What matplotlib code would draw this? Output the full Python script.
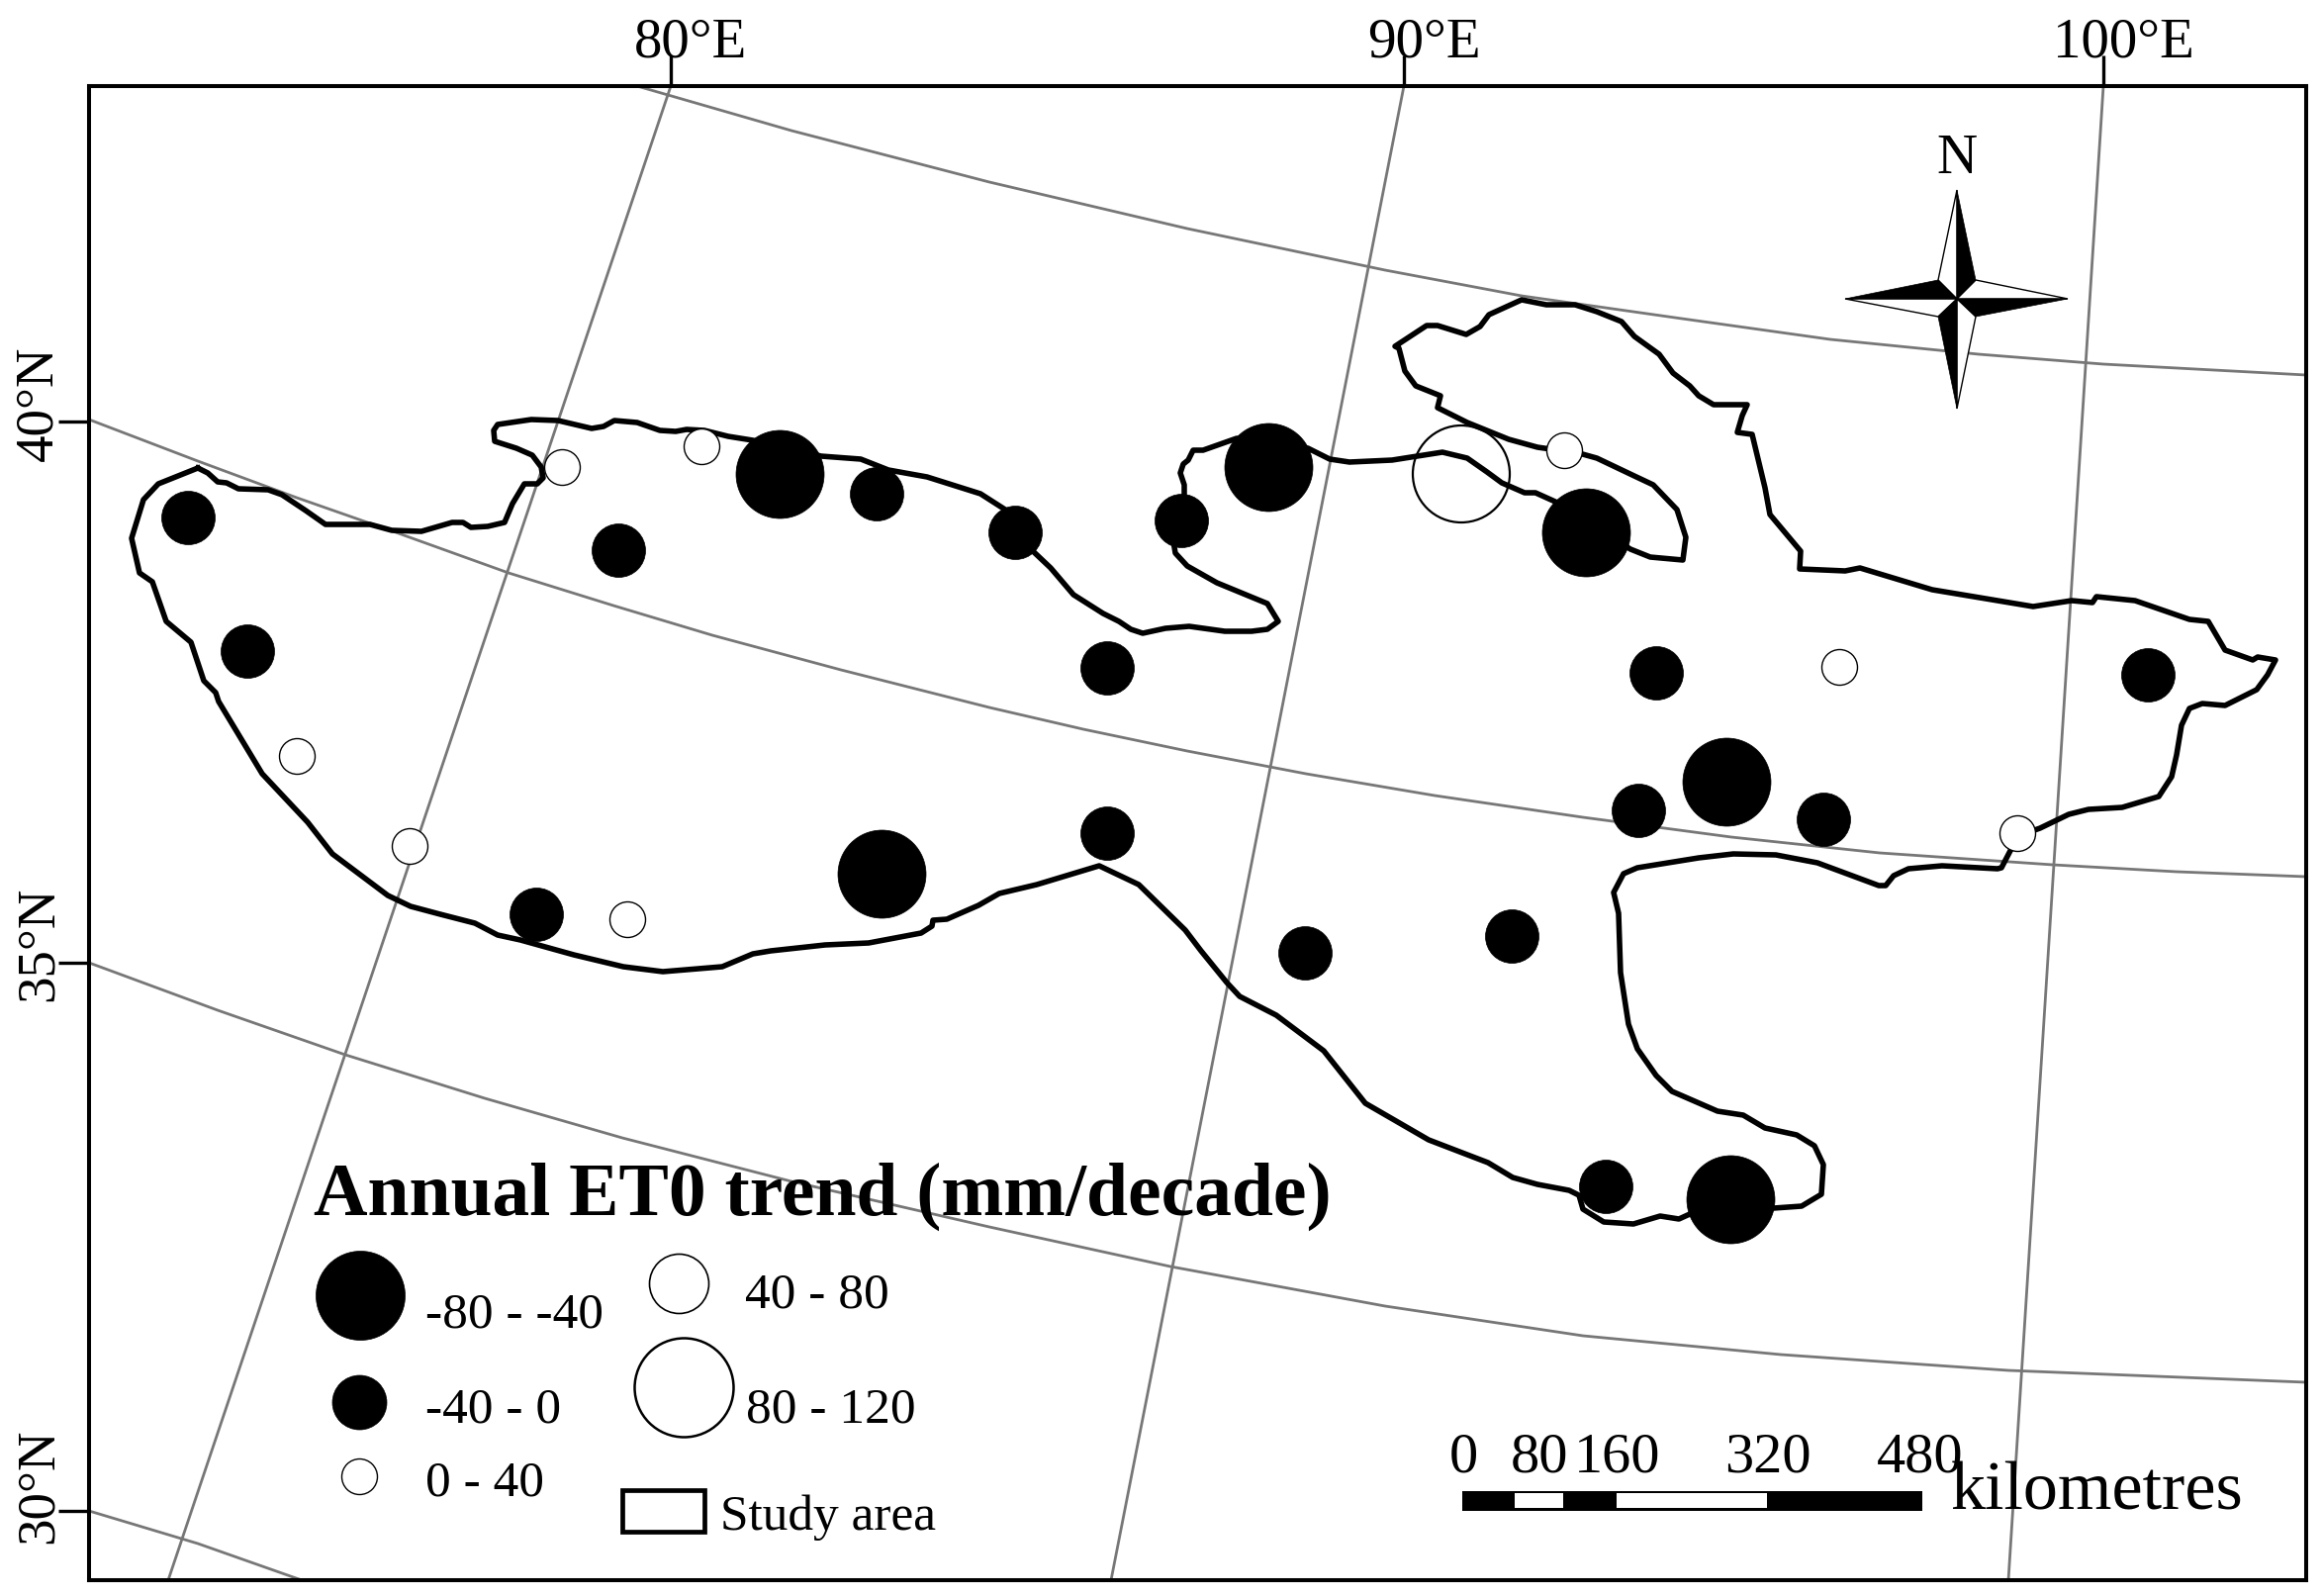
import matplotlib
matplotlib.use("Agg")
import matplotlib.pyplot as plt

plt.rcParams['font.family'] = ['Liberation Serif', 'DejaVu Serif']

# everything below is in pixels of the source map
FIG_W = 2347
FIG_H = 1613
LEFT, RIGHT, TOP, BOTTOM = 90, 2331, 87, 1597

# study area outline, clockwise from the north west corner
outline_x = [200, 210, 220, 229, 241, 271, 285, 309, 329, 374, 396, 426, 457, 468, 476, 493, 510, 518, 530, 543,
             549, 547, 538, 522, 500, 499, 503, 537, 564, 598, 610, 621, 644, 667, 683, 694, 712, 736, 761, 830,
             870, 898, 937, 991, 1016, 1044, 1062, 1085, 1115, 1131, 1143, 1155, 1178, 1202, 1238, 1265, 1281, 1292,
             1281, 1230, 1200, 1188, 1186, 1197, 1197, 1193, 1196, 1201, 1206, 1216, 1250, 1322, 1344, 1364, 1407,
             1458, 1483, 1503, 1518, 1541, 1552, 1572, 1648, 1668, 1701, 1704, 1695, 1671, 1654, 1614, 1596, 1554,
             1525, 1483, 1453, 1456, 1431, 1420, 1414, 1410, 1442, 1453, 1482, 1496, 1505, 1538, 1563, 1592, 1614,
             1639, 1652, 1677, 1691, 1708, 1717, 1732, 1766, 1761, 1756, 1771, 1784, 1789, 1820, 1819, 1865, 1880,
             1953, 2055, 2094, 2115, 2119, 2158, 2213, 2232, 2249, 2277, 2282, 2300, 2292, 2281, 2249, 2226, 2213,
             2205, 2200, 2195, 2182, 2145, 2111, 2091, 2062, 2045, 2036, 2023, 2019, 1963, 1929, 1914, 1906, 1899,
             1864, 1837, 1795, 1752, 1717, 1655, 1641, 1631, 1636, 1638, 1646, 1655, 1674, 1690, 1736, 1762, 1784,
             1816, 1834, 1843, 1841, 1821, 1793, 1708, 1697, 1678, 1651, 1621, 1600, 1596, 1586, 1554, 1529, 1504,
             1444, 1380, 1338, 1290, 1253, 1240, 1214, 1198, 1151, 1111, 1048, 1010, 989, 957, 943, 942, 931, 878,
             834, 779, 761, 730, 670, 630, 580, 526, 503, 480, 445, 415, 392, 336, 311, 265, 221, 218, 206, 193,
             168, 154, 141, 133, 145, 160, 200]
outline_y = [473, 478, 487, 488, 494, 495, 500, 516, 530, 530, 536, 537, 528, 528, 533, 532, 528, 509, 489, 489,
             483, 472, 460, 453, 446, 435, 429, 424, 425, 433, 431, 425, 427, 435, 436, 434, 435, 441, 445, 461,
             464, 475, 482, 499, 515, 557, 574, 601, 620, 628, 636, 640, 635, 633, 638, 638, 636, 628,
             610, 589, 572, 559, 547, 501, 490, 478, 469, 465, 455, 455, 443, 453, 464, 467, 465,
             457, 463, 477, 488, 498, 498, 507, 555, 563, 566, 543, 515, 490, 482, 463, 458, 452,
             444, 427, 412, 400, 390, 375, 352, 350, 329, 329, 338, 330, 318, 303, 308, 308, 315,
             325, 340, 358, 377, 390, 400, 409, 409, 420, 437, 439, 493, 520, 557, 575, 577, 574,
             596, 613, 607, 609, 603, 607, 626, 628, 657, 667, 664, 667, 682, 697, 713, 711, 716,
             733, 763, 785, 805, 816, 818, 823, 837, 843, 852, 877, 878, 875, 878, 885, 895, 895,
             882, 872, 864, 863, 867, 877, 883, 902, 923, 983, 1035, 1060, 1087, 1103, 1123, 1127, 1140,
             1147, 1158, 1177, 1207, 1219, 1221, 1227, 1232, 1229, 1237, 1235, 1222, 1208, 1203, 1197, 1190, 1175,
             1152, 1115, 1062, 1026, 1007, 993, 961, 940, 894, 875, 894, 903, 915, 929, 930, 936, 943, 953,
             955, 961, 964, 977, 982, 977, 965, 950, 945, 933, 924, 916, 905, 863, 831, 782, 709, 700, 688, 649,
             628, 588, 579, 544, 505, 489, 473]

# stations per trend class
big_neg_x = [788, 1282, 891, 1603, 1749, 1745]
big_neg_y = [479, 472, 883, 538, 1212, 790]
mid_neg_x = [190, 250, 625, 542, 886, 1026, 1194, 1119, 1119, 2171, 1843, 1319, 1528, 1623, 1674, 1656]
mid_neg_y = [523, 658, 556, 924, 499, 538, 526, 675, 842, 682, 828, 963, 946, 1199, 680, 819]
small_pos_x = [568, 300, 414, 634, 709, 1581, 1859, 2039]
small_pos_y = [472, 764, 855, 929, 451, 455, 674, 842]
large_pos_x = [1477]
large_pos_y = [479]

# graticule
meridian_x = [[678, 170], [1419, 1123], [2126, 2030]]
meridian_y = [[87, 1597], [87, 1597], [87, 1597]]
parallel_x = [[644, 800, 1000, 1200, 1400, 1538, 1700, 1850, 2000, 2126, 2331],
              [90, 200, 300, 400, 514, 620, 720, 850, 1000, 1095, 1200, 1320, 1450, 1600, 1750, 1900, 2075, 2200, 2331],
              [90, 220, 349, 490, 629, 800, 1000, 1183, 1400, 1600, 1800, 2030, 2331],
              [90, 200, 305]]
parallel_y = [[87, 132, 184, 231, 273, 299, 322, 343, 358, 368, 379],
              [424, 466, 503, 538, 579, 612, 642, 677, 715, 737, 759, 782, 804, 826, 846, 862, 874, 881, 886],
              [973, 1021, 1066, 1110, 1150, 1194, 1240, 1280, 1320, 1350, 1369, 1385, 1397],
              [1527, 1560, 1597]]
lon_labels = ['80°E', '90°E', '100°E']
lat_labels = ['40°N', '35°N', '30°N']
lat_ticks = [426, 973, 1527]
lat_label_y = [408, 954, 1502]

# scale bar
scale_km = ['0', '80', '160', '320', '480']
scale_label_x = [1479, 1556, 1635, 1787, 1941]
scale_white_left = [1531, 1634]
scale_white_width = [49, 152]


def circles(ax, xs, ys, r, filled, lw):
    # r is in pixels, scatter wants points squared
    size = (2 * r * 72 / 100) ** 2
    ax.scatter(xs, ys, s=size, c='black' if filled else 'white', edgecolors='black',
               linewidths=lw, zorder=4 if filled else 3, clip_on=False)


fig = plt.figure(figsize=(FIG_W / 100, FIG_H / 100), dpi=100)
ax = fig.add_axes([LEFT / FIG_W, 1 - BOTTOM / FIG_H, (RIGHT - LEFT) / FIG_W, (BOTTOM - TOP) / FIG_H])
ax.set_xlim(LEFT, RIGHT)
ax.set_ylim(BOTTOM, TOP)
for s in ax.spines.values():
    s.set_linewidth(2.9)
    s.set_zorder(10)

# ticks sit on the top and left edges, labels placed by hand further down
ax.xaxis.tick_top()
ax.set_xticks([m[0] for m in meridian_x])
ax.set_yticks(lat_ticks)
ax.set_xticklabels([])
ax.set_yticklabels([])
ax.tick_params(length=22, width=2.4, color='black')

for mx, my in zip(meridian_x, meridian_y):
    ax.plot(mx, my, color='#777777', lw=2.0, zorder=1)
for px, py in zip(parallel_x, parallel_y):
    ax.plot(px, py, color='#777777', lw=2.0, zorder=1)

ax.plot(outline_x, outline_y, color='black', lw=4.0, solid_joinstyle='round', zorder=2)

circles(ax, big_neg_x, big_neg_y, 44.5, True, 0.5)
circles(ax, mid_neg_x, mid_neg_y, 27, True, 0.5)
circles(ax, small_pos_x, small_pos_y, 18, False, 1.0)
ax.scatter(large_pos_x, large_pos_y, s=(2 * 49 * 0.72) ** 2, facecolors='none', edgecolors='black',
           linewidths=1.6, zorder=3)

# graticule labels
for x, lab in zip([m[0] for m in meridian_x], lon_labels):
    ax.text(x + 20, 57, lab, fontsize=41, ha='center', va='baseline', clip_on=False)
for y, lab in zip(lat_label_y, lat_labels):
    ax.text(39, y, lab, fontsize=39.5, rotation=90, ha='center', va='center', clip_on=False)

# legend
ax.text(317, 1228, 'Annual ET0 trend (mm/decade)', fontsize=54.4, fontweight='bold', va='baseline', zorder=6)
circles(ax, [364], [1309], 45, True, 0.5)
circles(ax, [363], [1417], 27.5, True, 0.5)
circles(ax, [363], [1492], 18, False, 1.0)
circles(ax, [686], [1297], 30, False, 1.2)
circles(ax, [691], [1402], 50, False, 1.8)
ax.text(430, 1341, '-80 - -40', fontsize=37, va='baseline')
ax.text(430, 1438, '-40 - 0', fontsize=37, va='baseline')
ax.text(430, 1511, '0 - 40', fontsize=37, va='baseline')
ax.text(753, 1322, '40 - 80', fontsize=37, va='baseline')
ax.text(754, 1437, '80 - 120', fontsize=37, va='baseline')
ax.add_patch(plt.Rectangle((629, 1506), 83, 42, fc='white', ec='black', lw=3.4, zorder=3))
ax.text(728, 1546, 'Study area', fontsize=37, va='baseline')

# scale bar
ax.barh(1517, 465, height=20, left=1478, color='black', zorder=3)
ax.barh([1516.5] * 2, scale_white_width, height=15, left=scale_white_left, color='white', zorder=4)
for x, lab in zip(scale_label_x, scale_km):
    ax.text(x, 1487, lab, fontsize=42, ha='center', va='baseline')
ax.text(1972, 1525, 'kilometres', fontsize=50.5, va='baseline', zorder=6)

# north arrow
black_faces = [([1978, 1978, 1997], [302, 192, 283]), ([1978, 2090, 1997], [302, 302, 320]),
               ([1978, 1978, 1959], [302, 413, 320]), ([1978, 1865, 1959], [302, 302, 283])]
white_faces = [([1978, 1978, 1959], [302, 192, 283]), ([1978, 2090, 1997], [302, 302, 283]),
               ([1978, 1978, 1997], [302, 413, 320]), ([1978, 1865, 1959], [302, 302, 320])]
for fx, fy in white_faces:
    ax.fill(fx, fy, fc='white', ec='black', lw=1.0, zorder=5)
for fx, fy in black_faces:
    ax.fill(fx, fy, fc='black', ec='black', lw=0.5, zorder=5)
ax.text(1978, 175, 'N', fontsize=41, ha='center', va='baseline')

fig.savefig('out.png', dpi=100)
